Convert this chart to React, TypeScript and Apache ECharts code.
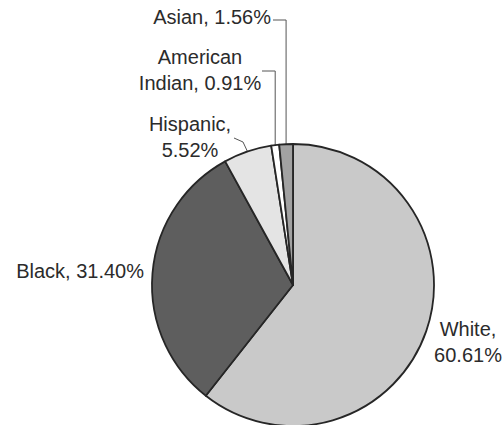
import React, { useEffect, useRef } from "react";
import * as echarts from "echarts";

const categories = ["White", "Black", "Hispanic", "American Indian", "Asian"];
const values = [60.61, 31.4, 5.52, 0.91, 1.56];
const displayNames = ["White,\n", "Black, ", "Hispanic,\n", "American\nIndian, ", "Asian, "];

const sliceColors = ["#c9c9c9", "#5e5e5e", "#e4e4e4", "#ffffff", "#a2a2a2"];

export default function App() {
  const ref = useRef<HTMLDivElement>(null);

  useEffect(() => {
    if (!ref.current) return;
    const chart = echarts.init(ref.current, undefined, { renderer: "svg" });

    const labelPos: Record<string, { x: number; y: number; align: string }> = {
      White: { x: 468, y: 342, align: "center" },
      Black: { x: 144, y: 271, align: "right" },
      Hispanic: { x: 190, y: 137, align: "center" },
      "American Indian": { x: 200, y: 70, align: "center" },
      Asian: { x: 271, y: 17, align: "right" },
    };

    const data = categories.map((name, i) => ({
      name,
      value: values[i],
      itemStyle: { color: sliceColors[i] },
      labelLine: { show: name !== "White" && name !== "Black" },
    }));

    chart.setOption({
      animation: false,
      backgroundColor: "#ffffff",
      series: [
        {
          type: "pie",
          center: [293, 285],
          radius: 141,
          startAngle: 90,
          clockwise: true,
          avoidLabelOverlap: false,
          data,
          itemStyle: { borderColor: "#262626", borderWidth: 1.8 },
          label: {
            show: true,
            position: "outside",
            fontFamily: "Liberation Sans, Arial, sans-serif",
            fontSize: 20,
            lineHeight: 26,
            color: "#2b2b2b",
            formatter: (p: any) =>
              displayNames[p.dataIndex] + values[p.dataIndex].toFixed(2) + "%",
          },
          labelLine: {
            show: true,
            lineStyle: { color: "#555555", width: 1 },
          },
          labelLayout: (params: any) => {
            const name = categories[params.dataIndex];
            const pos = labelPos[name];
            const out: any = {
              x: pos.x,
              y: pos.y,
              align: pos.align,
              verticalAlign: "middle",
            };
            const pts = params.labelLinePoints;
            if (pts && pts.length) {
              const a = pts[0];
              if (name === "Asian") {
                out.labelLinePoints = [
                  [a[0], a[1]],
                  [a[0], 20],
                  [273, 20],
                ];
              } else if (name === "American Indian") {
                out.labelLinePoints = [
                  [a[0], a[1]],
                  [a[0], 71],
                  [262, 71],
                ];
              } else if (name === "Hispanic") {
                out.labelLinePoints = [
                  [a[0], a[1]],
                  [243, 142],
                  [234, 138],
                ];
              }
            }
            return out;
          },
        },
      ],
    });

    return () => chart.dispose();
  }, []);

  return (
    <div
      ref={ref}
      style={{ position: "fixed", left: 0, top: 0, width: 504, height: 425 }}
    />
  );
}
